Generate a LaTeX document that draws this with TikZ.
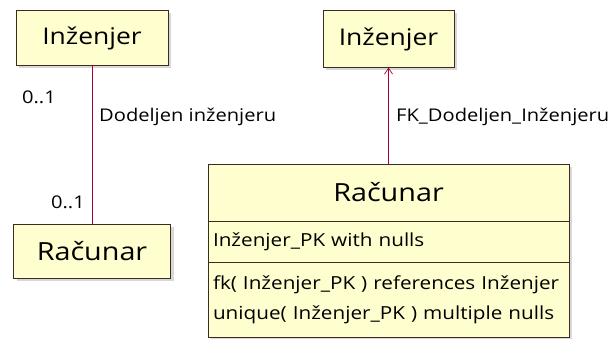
\documentclass[tikz,border=0pt]{standalone}
\usepackage{fontspec}
\setmainfont{Open Sans}[FakeStretch=1.15]
\usetikzlibrary{arrows.meta,positioning,shadows}
\definecolor{umlfill}{HTML}{FEFECE}
\definecolor{umldraw}{HTML}{3A2C22}
\definecolor{umlline}{HTML}{A80036}

\begin{document}
\begin{tikzpicture}[x=1pt, y=-1pt,
  entity/.style={draw=umldraw, fill=umlfill, line width=0.9pt, outer sep=0pt, align=center, inner sep=0pt, font=\fontsize{23}{27}\selectfont, drop shadow={opacity=0.3, shadow xshift=3pt, shadow yshift=-3pt}},
  bigtitle/.style={font=\fontsize{25}{29}\selectfont},
  member/.style={draw=umldraw, fill=umlfill, line width=0.9pt, outer sep=0pt, align=left, inner xsep=5pt, inner ysep=0pt, text width=351pt, font=\fontsize{18}{30}\selectfont, drop shadow={opacity=0.3, shadow xshift=3pt, shadow yshift=-3pt}},
  lbl/.style={inner sep=0pt, font=\fontsize{17.5}{20}\selectfont},
  assoc/.style={draw=umlline, line width=0.7pt},
  fkarrow/.style={draw=umlline, line width=0.7pt, -{Straight Barb[length=6pt, width=8pt]}}
]
\useasboundingbox (0,0) rectangle (612,339);
\fill[white] (0,0) rectangle (612,339);
% left: association between the two tables
\node[entity, minimum width=152pt, minimum height=55pt] (inzA) at (92,38) {Inženjer};
\node[entity, bigtitle, minimum width=157pt, minimum height=54pt] (racA) at (92,251) {Računar};
% right: foreign key with its columns
\node[entity, minimum width=131pt, minimum height=57pt] (inzB) at (388.5,39) {Inženjer};
\node[entity, bigtitle, minimum width=361pt, minimum height=57pt] (racB) at (388.5,192.5) {Računar};
\node[member, minimum height=41pt, below=0pt of racB] (racBattr) {Inženjer\_PK with nulls};
\node[member, minimum height=75pt, below=0pt of racBattr] (racBops) {fk( Inženjer\_PK ) references Inženjer\\unique( Inženjer\_PK ) multiple nulls};

\draw[assoc] (inzA) -- (racA);
\draw[fkarrow] (racB) -- (inzB);

\node[lbl, anchor=east] (mulTop) at (56,97) {0..1};
\node[lbl, anchor=west] (lblA) at (99,117) {Dodeljen inženjeru};
\node[lbl, anchor=east] (mulBot) at (85,202) {0..1};
\node[lbl, anchor=west] (lblB) at (396,117) {FK\_Dodeljen\_Inženjeru};
\end{tikzpicture}
\end{document}
